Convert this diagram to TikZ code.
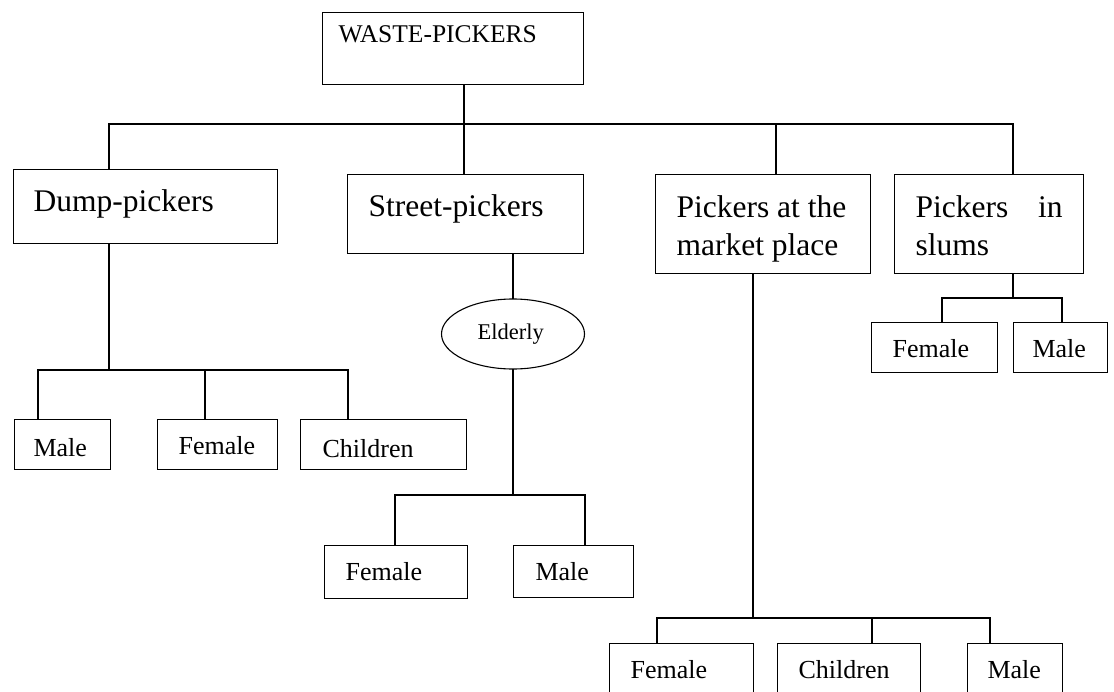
\documentclass[tikz,border=0pt]{standalone}
\usepackage{fontspec}
\setmainfont{Liberation Serif}
\usetikzlibrary{shapes.geometric}

\begin{document}
\begin{tikzpicture}[x=1pt,y=-1pt,
  line width=1.1pt, line cap=rect,
  box/.style={draw, rectangle, inner sep=0pt, anchor=north west},
  oval/.style={draw, ellipse, inner sep=0pt, minimum width=143pt, minimum height=70pt},
  big/.style={inner sep=0pt, anchor=base west, font=\fontsize{31.5}{38}\selectfont},
  small/.style={inner sep=0pt, anchor=base west, font=\fontsize{26}{30}\selectfont},
  head/.style={inner sep=0pt, anchor=base west, font=\fontsize{25.5}{30}\selectfont},
  link/.style={draw}]
\useasboundingbox (0,0) rectangle (1114,691);
\clip (0,0) rectangle (1114,691);

% ---- boxes ----
\node[box, minimum width=261pt, minimum height=72pt] (top) at (322,12) {};
\node[box, minimum width=264pt, minimum height=74pt] (dump) at (13,169) {};
\node[box, minimum width=236pt, minimum height=79pt] (street) at (347,174) {};
\node[box, minimum width=215pt, minimum height=99pt] (market) at (655,174) {};
\node[box, minimum width=189pt, minimum height=99pt] (slums) at (894,174) {};

\node[box, minimum width=96pt,  minimum height=50pt] (dmale) at (14,419) {};
\node[box, minimum width=120pt, minimum height=50pt] (dfemale) at (157,419) {};
\node[box, minimum width=166pt, minimum height=50pt] (dchild) at (300,419) {};

\node[oval] (elderly) at (513,334) {};
\node[box, minimum width=143pt, minimum height=53pt] (efemale) at (324,545) {};
\node[box, minimum width=120pt, minimum height=52pt] (emale) at (513,545) {};

\node[box, minimum width=126pt, minimum height=50pt] (sfemale) at (871,322) {};
\node[box, minimum width=94pt,  minimum height=50pt] (smale) at (1013,322) {};

\node[box, minimum width=144pt, minimum height=80pt] (mfemale) at (609,643) {};
\node[box, minimum width=143pt, minimum height=80pt] (mchild) at (777,643) {};
\node[box, minimum width=95pt,  minimum height=80pt] (mmale) at (967,643) {};

% ---- texts ----
\node[head] (topT) at (338,42) {WASTE-PICKERS};
\node[big] (dumpT) at (33,211) {Dump-pickers};
\node[big] (streetT) at (368,216) {Street-pickers};
\node[big] (marketT1) at (676,217) {Pickers at the};
\node[big] (marketT2) at (676,255) {market place};
\node[big] (slumsT1) at (915,217) {\makebox[147pt][l]{Pickers\hfill in}};
\node[big] (slumsT2) at (915,255) {slums};

\node[small] (dmaleT) at (33,456) {Male};
\node[small] (dfemaleT) at (178,454) {Female};
\node[small] (dchildT) at (322,457) {Children};

\node[inner sep=0pt, anchor=base west, font=\fontsize{22.5}{26}\selectfont] (elderlyT) at (477,339) {Elderly};
\node[small] (efemaleT) at (345,580) {Female};
\node[small] (emaleT) at (535,580) {Male};

\node[small] (sfemaleT) at (892,357) {Female};
\node[small] (smaleT) at (1032,357) {Male};

\node[small] (mfemaleT) at (630,678) {Female};
\node[small] (mchildT) at (798,678) {Children};
\node[small] (mmaleT) at (987,678) {Male};

% ---- junction points ----
\coordinate (j0) at (464,124);
\coordinate (jdump) at (109,124);
\coordinate (jmarket) at (776,124);
\coordinate (jslums) at (1013,124);

\coordinate (kdump) at (109,370);
\coordinate (kdl) at (38,370);
\coordinate (kdm) at (205,370);
\coordinate (kdr) at (348,370);

\coordinate (kstreet) at (513,299);
\coordinate (kel) at (513,495);
\coordinate (kell) at (395,495);
\coordinate (kelr) at (585,495);

\coordinate (kslums) at (1013,298);
\coordinate (ksl) at (942,298);
\coordinate (ksr) at (1062,298);

\coordinate (kmarket) at (753,618);
\coordinate (kml) at (657,618);
\coordinate (kmm) at (872,618);
\coordinate (kmr) at (990,618);

% ---- connectors ----
\draw[link] (top.south -| j0) -- (j0);
\draw[link] (jdump) -- (jslums);
\draw[link] (jdump) -- (jdump |- dump.north);
\draw[link] (j0) -- (j0 |- street.north);
\draw[link] (jmarket) -- (jmarket |- market.north);
\draw[link] (jslums) -- (jslums |- slums.north);

\draw[link] (dump.south -| kdump) -- (kdump);
\draw[link] (kdl) -- (kdr);
\draw[link] (kdl) -- (kdl |- dmale.north);
\draw[link] (kdm) -- (kdm |- dfemale.north);
\draw[link] (kdr) -- (kdr |- dchild.north);

\draw[link] (street.south -| kstreet) -- (elderly.north);
\draw[link] (elderly.south) -- (kel);
\draw[link] (kell) -- (kelr);
\draw[link] (kell) -- (kell |- efemale.north);
\draw[link] (kelr) -- (kelr |- emale.north);

\draw[link] (slums.south -| kslums) -- (kslums);
\draw[link] (ksl) -- (ksr);
\draw[link] (ksl) -- (ksl |- sfemale.north);
\draw[link] (ksr) -- (ksr |- smale.north);

\draw[link] (market.south -| kmarket) -- (kmarket);
\draw[link] (kml) -- (kmr);
\draw[link] (kml) -- (kml |- mfemale.north);
\draw[link] (kmm) -- (kmm |- mchild.north);
\draw[link] (kmr) -- (kmr |- mmale.north);
\end{tikzpicture}
\end{document}
